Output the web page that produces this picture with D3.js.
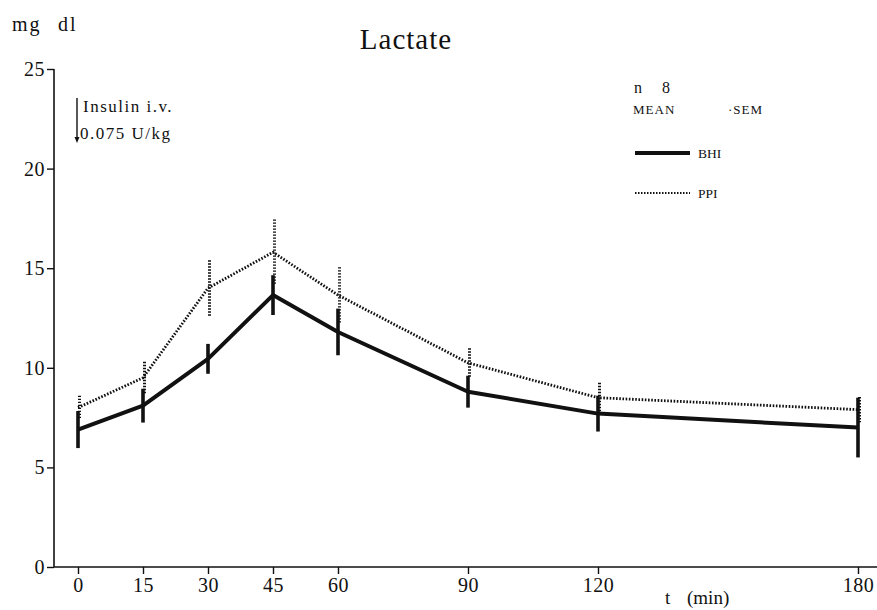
<!DOCTYPE html>
<html>
<head>
<meta charset="utf-8">
<script src="https://cdn.jsdelivr.net/npm/d3@7"></script>
<style>
  body { margin: 0; background: #fff; }
  svg { display: block; }
  text { font-family: "Liberation Serif", "DejaVu Serif", serif; fill: #111; }
</style>
</head>
<body>
<svg id="chart" width="877" height="610"></svg>
<script>
// ---- data ----
const times = [0, 15, 30, 45, 60, 90, 120, 180];
const xTicks = [0, 15, 30, 45, 60, 90, 120, 180];
const yTicks = [0, 5, 10, 15, 20, 25];
const bhiMean = [6.9, 8.1, 10.45, 13.65, 11.8, 8.8, 7.7, 7.0];
const bhiSem  = [0.93, 0.85, 0.75, 1.0, 1.17, 0.8, 0.9, 1.5];
const ppiMean = [8.0, 9.5, 14.0, 15.8, 13.65, 10.25, 8.5, 7.9];
const ppiSem  = [0.6, 0.8, 1.4, 1.65, 1.4, 0.73, 0.75, 0.63];

const svg = d3.select("#chart");
const x = d3.scaleLinear().domain([0, 180]).range([78, 858]);
const y = d3.scaleLinear().domain([0, 25]).range([567, 69]);
const axisX0 = 54;

// axes
const yAxis = d3.axisLeft(y).tickValues(yTicks).tickSize(7).tickPadding(2);
const gy = svg.append("g").attr("transform", `translate(${axisX0},0)`).call(yAxis);
gy.select(".domain").remove();
gy.append("line").attr("x1", 0).attr("x2", 0).attr("y1", y(25)).attr("y2", y(0))
  .attr("stroke", "#111").attr("stroke-width", 1.6);
gy.selectAll(".tick line").attr("stroke", "#111").attr("stroke-width", 1.4);
gy.selectAll(".tick text").style("font-size", "20px").style("letter-spacing", "0.5px").attr("fill", "#111");

const xAxis = d3.axisBottom(x).tickValues(xTicks).tickSize(7).tickPadding(4);
const gx = svg.append("g").attr("transform", `translate(0,${y(0)})`).call(xAxis);
gx.select(".domain").remove();
gx.append("line").attr("x1", axisX0).attr("x2", 877).attr("y1", 0).attr("y2", 0)
  .attr("stroke", "#111").attr("stroke-width", 1.6);
gx.selectAll(".tick line").attr("stroke", "#111").attr("stroke-width", 1.4);
gx.selectAll(".tick text").style("font-size", "20px").style("letter-spacing", "0.5px").attr("fill", "#111");

// titles
svg.append("text").attr("x", 406).attr("y", 49).attr("text-anchor", "middle")
  .style("font-size", "29px").style("letter-spacing", "1px").text("Lactate");
svg.append("text").attr("x", 12).attr("y", 31).style("font-size", "20px").style("letter-spacing", "2px").text("mg");
svg.append("text").attr("x", 58).attr("y", 31).style("font-size", "20px").style("letter-spacing", "2px").text("dl");
svg.append("text").attr("x", 665).attr("y", 604).style("font-size", "19px").text("t");
svg.append("text").attr("x", 687).attr("y", 604).style("font-size", "19px").text("(min)");

// insulin annotation
svg.append("line").attr("x1", 77).attr("x2", 77).attr("y1", 98).attr("y2", 140)
  .attr("stroke", "#111").attr("stroke-width", 1.4);
svg.append("path").attr("d", "M74.5,137 L77,143 L79.5,137 Z").attr("fill", "#111");
svg.append("text").attr("x", 83).attr("y", 112).style("font-size", "17px").style("letter-spacing", "1.5px").text("Insulin  i.v.");
svg.append("text").attr("x", 80).attr("y", 139).style("font-size", "17px").style("letter-spacing", "1.5px").text("0.075  U/kg");

// legend
svg.append("text").attr("x", 634).attr("y", 93).style("font-size", "16px").text("n");
svg.append("text").attr("x", 662).attr("y", 93).style("font-size", "16px").text("8");
svg.append("text").attr("x", 633).attr("y", 114).style("font-size", "13px").style("letter-spacing", "1px").text("MEAN");
svg.append("text").attr("x", 728).attr("y", 114).style("font-size", "13px").style("letter-spacing", "1px").text("·SEM");
svg.append("line").attr("x1", 635).attr("x2", 690).attr("y1", 153).attr("y2", 153)
  .attr("stroke", "#111").attr("stroke-width", 4);
svg.append("text").attr("x", 698).attr("y", 158).style("font-size", "13.5px").text("BHI");
svg.append("line").attr("x1", 635).attr("x2", 690).attr("y1", 193).attr("y2", 193)
  .attr("stroke", "#111").attr("stroke-width", 2).attr("stroke-dasharray", "1.5,1.5");
svg.append("text").attr("x", 698).attr("y", 198).style("font-size", "13.5px").text("PPI");

const line = d3.line().x((d, i) => x(times[i])).y(d => y(d));

// PPI dotted
svg.append("path").datum(ppiMean).attr("d", line).attr("fill", "none")
  .attr("stroke", "#111").attr("stroke-width", 2.8).attr("stroke-dasharray", "1.6,1.6");
svg.append("g").selectAll("line").data(ppiMean).join("line")
  .attr("x1", (d, i) => x(times[i]) + 1.5).attr("x2", (d, i) => x(times[i]) + 1.5)
  .attr("y1", (d, i) => y(d + ppiSem[i])).attr("y2", (d, i) => y(d - ppiSem[i]))
  .attr("stroke", "#111").attr("stroke-width", 3).attr("stroke-dasharray", "1.4,1.6");

// BHI solid
svg.append("path").datum(bhiMean).attr("d", line).attr("fill", "none")
  .attr("stroke", "#111").attr("stroke-width", 4).attr("stroke-linejoin", "round");
svg.append("g").selectAll("line").data(bhiMean).join("line")
  .attr("x1", (d, i) => x(times[i])).attr("x2", (d, i) => x(times[i]))
  .attr("y1", (d, i) => y(d + bhiSem[i])).attr("y2", (d, i) => y(d - bhiSem[i]))
  .attr("stroke", "#111").attr("stroke-width", 3.6);
</script>
</body>
</html>
